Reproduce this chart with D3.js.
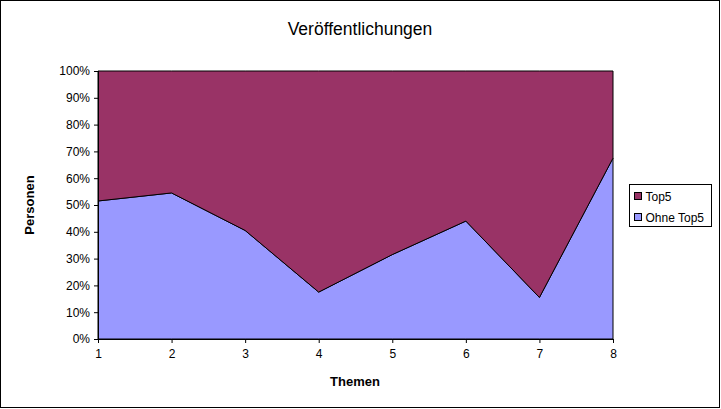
<!DOCTYPE html>
<html>
<head>
<meta charset="utf-8">
<script src="https://cdn.jsdelivr.net/npm/d3@7"></script>
<style>
  body { margin: 0; background: #fff; }
  text { font-family: Arial, "Liberation Sans", sans-serif; }
</style>
</head>
<body>
<div id="chart"></div>
<script>
var themen = [1, 2, 3, 4, 5, 6, 7, 8];
var ohneTop5 = [51.5, 54.5, 40.5, 17.5, 31.5, 44, 15.5, 67.5];
var top5 = [48.5, 45.5, 59.5, 82.5, 68.5, 56, 84.5, 32.5];
var yTicks = [0, 10, 20, 30, 40, 50, 60, 70, 80, 90, 100];

var width = 721, height = 409;
var margin = {top: 71, right: 108, bottom: 70, left: 98};

var svg = d3.select("#chart").append("svg")
    .attr("width", width)
    .attr("height", height);

// outer frame
svg.append("rect")
    .attr("x", 0.5).attr("y", 0.5)
    .attr("width", width - 2).attr("height", height - 2)
    .attr("fill", "#fff").attr("stroke", "#000");

var w = width - margin.left - margin.right,
    h = height - margin.top - margin.bottom;

var x = d3.scaleLinear().domain([1, 8]).range([0, w]);
var y = d3.scaleLinear().domain([0, 100]).range([h, 0]);

var g = svg.append("g")
    .attr("transform", "translate(" + margin.left + "," + margin.top + ")");

var rows = themen.map(function(t, i) {
    return {t: t, ohne: ohneTop5[i], top: top5[i]};
});
var stack = d3.stack().keys(["ohne", "top"]).offset(d3.stackOffsetExpand);
var series = stack(rows);
var colors = {ohne: "#9999ff", top: "#993366"};

var area = d3.area()
    .x(function(d) { return x(d.data.t); })
    .y0(function(d) { return y(d[0] * 100); })
    .y1(function(d) { return y(d[1] * 100); });

g.selectAll(".layer")
    .data(series)
    .enter().append("path")
    .attr("class", "layer")
    .attr("d", area)
    .attr("fill", function(d) { return colors[d.key]; })
    .attr("stroke", "#000")
    .attr("stroke-width", 1);

// axes
var yAxis = g.append("g")
    .call(d3.axisLeft(y).tickValues(yTicks).tickSize(4).tickPadding(4)
        .tickFormat(function(d) { return d + "%"; }));
var xAxis = g.append("g")
    .attr("transform", "translate(0," + h + ")")
    .call(d3.axisBottom(x).tickValues(themen).tickSize(4).tickPadding(6)
        .tickFormat(d3.format("d")));
[yAxis, xAxis].forEach(function(a) {
    a.select(".domain").attr("stroke", "#000");
    a.selectAll("text").attr("font-size", "12px").attr("fill", "#000");
    a.selectAll("line").attr("stroke", "#000");
});
yAxis.select(".domain").attr("d", "M0.5," + h + "V0");
xAxis.select(".domain").attr("d", "M0,0.5H" + w);

svg.append("text")
    .attr("x", 360).attr("y", 35)
    .attr("text-anchor", "middle")
    .attr("font-size", "17.5px")
    .text("Veröffentlichungen");

svg.append("text")
    .attr("x", 355).attr("y", 386)
    .attr("text-anchor", "middle")
    .attr("font-size", "13px")
    .attr("font-weight", "bold")
    .text("Themen");

svg.append("text")
    .attr("transform", "translate(34,205) rotate(-90)")
    .attr("text-anchor", "middle")
    .attr("font-size", "13px")
    .attr("font-weight", "bold")
    .text("Personen");

// legend
var leg = svg.append("g").attr("transform", "translate(629.5,184.5)");
leg.append("rect")
    .attr("width", 82).attr("height", 42)
    .attr("fill", "#fff").attr("stroke", "#000");
var items = [{key: "top", label: "Top5"}, {key: "ohne", label: "Ohne Top5"}];
items.forEach(function(it, i) {
    leg.append("rect")
        .attr("x", 5).attr("y", 8 + i * 21)
        .attr("width", 7).attr("height", 7)
        .attr("fill", colors[it.key]).attr("stroke", "#000");
    leg.append("text")
        .attr("x", 16).attr("y", 16 + i * 21)
        .attr("font-size", "12px")
        .text(it.label);
});
</script>
</body>
</html>
